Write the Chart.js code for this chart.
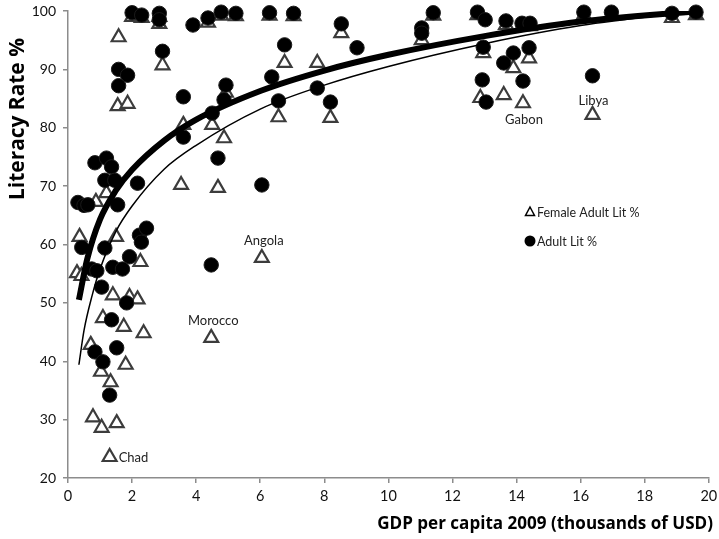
<!DOCTYPE html>
<html>
<head>
<meta charset="utf-8">
<script src="https://cdn.jsdelivr.net/npm/chart.js@4.4.1/dist/chart.umd.min.js"></script>
<style>
  html, body { margin: 0; padding: 0; background: #fff; }
  #wrap { width: 719px; height: 539px; position: relative; }
</style>
</head>
<body>
<div id="wrap"><canvas id="c" width="719" height="539"></canvas></div>
<script>
// ---- Data ----
// Adult literacy (%), GDP per capita 2009 (thousands USD)
const adultGdp = [0.31,0.5,0.62,0.43,0.74,0.9,0.84,1.2,1.36,1.15,1.46,1.05,1.15,1.55,2.17,2.23,2.45,2.29,1.92,1.4,1.7,1.83,1.36,0.84,1.09,1.52,1.3,1.58,1.86,1.58,2.0,2.3,2.85,2.85,2.95,3.9,3.6,3.6,4.37,4.78,5.24,6.29,7.04,8.53,9.02,6.76,6.36,4.93,4.87,4.5,6.57,7.78,8.19,4.68,6.05,4.47,11.4,11.04,11.04,12.78,13.02,13.67,14.17,14.42,12.96,14.39,13.9,13.6,12.93,14.2,13.05,16.1,16.96,18.85,19.6,16.37];
const adultLit = [67.2,66.7,66.8,59.5,55.8,55.5,74.0,74.8,73.3,71.0,71.0,52.7,59.4,66.8,70.5,61.6,62.8,60.4,57.9,56.1,55.8,50.0,47.1,41.6,39.9,42.3,34.2,90.0,89.0,87.2,99.7,99.3,99.6,98.5,93.1,97.6,85.3,78.4,98.8,99.8,99.6,99.7,99.6,97.8,93.7,94.2,88.7,87.3,84.8,82.5,84.6,86.8,84.4,74.8,70.2,56.5,99.7,97.1,96.2,99.8,98.5,98.3,97.9,97.9,93.8,93.7,92.8,91.1,88.2,88.0,84.4,99.8,99.8,99.6,99.8,88.9];

// Female adult literacy (%)
const femaleGdp = [0.87,1.2,0.36,1.5,0.28,0.42,2.26,1.4,1.92,2.17,1.09,1.74,2.36,0.71,1.8,1.03,1.33,0.78,1.05,1.52,1.3,1.58,2.95,1.55,1.86,3.6,3.53,4.68,6.05,4.47,4.87,4.5,6.57,8.19,6.76,7.78,8.53,2.0,2.3,2.85,2.85,4.37,11.04,12.96,14.39,13.9,12.87,13.6,14.2,16.37,18.85,13.67,4.93,4.78,5.24,6.29,7.04,11.4,12.78,16.1,16.96,19.6,14.17,14.42];
const femaleLit = [67.3,68.8,61.3,61.3,55.1,54.6,57.0,51.3,51.0,50.6,47.4,45.9,44.8,42.8,39.4,38.2,36.4,30.4,28.6,29.4,23.6,95.5,90.7,83.7,84.1,80.5,70.2,69.7,57.7,44.0,78.2,80.5,81.8,81.7,91.1,91.1,96.2,99.0,98.8,99.0,97.8,98.0,95.0,92.8,91.9,90.2,85.1,85.6,84.2,82.2,98.8,97.6,86.0,99.2,99.1,99.2,99.1,99.2,99.3,99.3,99.3,99.3,97.4,97.4];

// Trend lines
const adultTrendGdp = [0.34,0.6,1,1.5,2,3,4,6,8,10,13,16,19.7];
const adultTrendLit = [50.5,57.5,64.3,69.3,72.8,77.8,81.4,86.3,89.8,92.5,95.7,98.2,100];
const femaleTrendGdp = [0.34,0.5,0.75,1,1.5,2,3,4,6,8,10,13,16,19.7];
const femaleTrendLit = [39.4,45.3,51.2,55.8,62.3,66.6,72.9,77.0,83.2,87.3,90.5,94.4,97.5,100];

// Tick labels / axis ranges
const xTicks = [0,2,4,6,8,10,12,14,16,18,20];
const yTicks = [20,30,40,50,60,70,80,90,100];

// Labelled countries (female series points)
const labelNames = ['Chad','Morocco','Angola','Gabon','Libya'];
const labelGdp = [1.3,4.47,6.05,14.2,16.37];
const labelLit = [23.6,44.0,57.7,84.2,82.2];

// Legend entries and axis titles
const legendNames = ['Female Adult Lit %','Adult Lit %'];
const xTitle = 'GDP per capita 2009 (thousands of USD)';
const yTitle = 'Literacy Rate %';

// ---- Build ----
const toPts = (xs, ys) => xs.map((x, i) => ({x, y: ys[i]}));
const FONT = 'Lato, "Open Sans", sans-serif';
const TFONT = '"Open Sans", Lato, sans-serif';

function fitFont(ctx, text, weight, family, targetWidth) {
  ctx.font = weight + ' 20px ' + family;
  const w = ctx.measureText(text).width;
  const size = 20 * targetWidth / w;
  ctx.font = weight + ' ' + size.toFixed(2) + 'px ' + family;
}

const overlay = {
  id: 'overlay',
  afterDraw(chart) {
    const ctx = chart.ctx;
    const xs = chart.scales.x, ys = chart.scales.y;
    ctx.save();
    // country labels
    ctx.fillStyle = '#222';
    ctx.font = '13px ' + FONT;
    labelNames.forEach((name, i) => {
      const px = xs.getPixelForValue(labelGdp[i]);
      const py = ys.getPixelForValue(labelLit[i]);
      ctx.textBaseline = 'middle';
      if (name === 'Chad') {
        ctx.textAlign = 'left';
        ctx.fillText(name, px + 9, py + 1);
      } else if (name === 'Gabon') {
        ctx.textAlign = 'center';
        ctx.fillText(name, px + 1, py + 17);
      } else if (name === 'Libya') {
        ctx.textAlign = 'center';
        ctx.fillText(name, px + 1, py - 14);
      } else {
        ctx.textAlign = 'center';
        ctx.fillText(name, px + 2, py - 17);
      }
    });
    // legend
    const lx = 530, ly1 = 212, ly2 = 241;
    ctx.strokeStyle = '#000'; ctx.lineWidth = 1.5;
    ctx.beginPath();
    ctx.moveTo(lx, ly1 - 5); ctx.lineTo(lx + 4.5, ly1 + 3.5); ctx.lineTo(lx - 4.5, ly1 + 3.5); ctx.closePath();
    ctx.stroke();
    ctx.fillStyle = '#000';
    ctx.beginPath(); ctx.arc(lx, ly2, 5.5, 0, Math.PI * 2); ctx.fill();
    ctx.fillStyle = '#222';
    ctx.font = '12.5px ' + FONT;
    ctx.textAlign = 'left'; ctx.textBaseline = 'middle';
    ctx.fillText(legendNames[0], lx + 7, ly1 + 1);
    ctx.fillText(legendNames[1], lx + 7, ly2 + 1);
    // axis titles
    ctx.fillStyle = '#000';
    fitFont(ctx, xTitle, 'bold', TFONT, 336);
    ctx.textAlign = 'right'; ctx.textBaseline = 'middle';
    ctx.fillText(xTitle, 713, 524);
    fitFont(ctx, yTitle, 'bold', TFONT, 162);
    ctx.translate(18, 119);
    ctx.rotate(-Math.PI / 2);
    ctx.textAlign = 'center';
    ctx.fillText(yTitle, 0, 0);
    ctx.restore();
  }
};

new Chart(document.getElementById('c'), {
  type: 'scatter',
  data: {
    datasets: [
      {
        label: 'Adult trend',
        data: toPts(adultTrendGdp, adultTrendLit),
        showLine: true, borderColor: '#000', borderWidth: 6,
        pointRadius: 0, cubicInterpolationMode: 'monotone', order: 0
      },
      {
        label: 'Female trend',
        data: toPts(femaleTrendGdp, femaleTrendLit),
        showLine: true, borderColor: '#000', borderWidth: 1.5,
        pointRadius: 0, cubicInterpolationMode: 'monotone', order: 0
      },
      {
        label: legendNames[1],
        data: toPts(adultGdp, adultLit),
        pointStyle: 'circle', pointRadius: 7.2, clip: false,
        backgroundColor: '#000', borderColor: '#1a1a1a', borderWidth: 1, order: 1
      },
      {
        label: legendNames[0],
        data: toPts(femaleGdp, femaleLit),
        pointStyle: 'triangle', pointRadius: 8, clip: false,
        backgroundColor: '#fff', borderColor: '#3c3c3c', borderWidth: 2.2, order: 2
      }
    ]
  },
  options: {
    responsive: false,
    animation: false,
    events: [],
    layout: { padding: { left: 0, right: 6, top: 11, bottom: 0 } },
    plugins: { legend: { display: false }, tooltip: { enabled: false } },
    scales: {
      x: {
        type: 'linear', min: xTicks[0], max: xTicks[xTicks.length - 1],
        afterFit: s => { s.height = 61; s.paddingLeft = 0; s.paddingRight = 0; },
        afterBuildTicks: s => { s.ticks = xTicks.map(v => ({value: v})); },
        border: { display: true, color: '#8c8c8c', width: 1.5 },
        grid: { display: true, drawOnChartArea: false, drawTicks: true, tickLength: 5, color: '#8c8c8c', lineWidth: 1.5 },
        ticks: { color: '#111', font: { family: FONT, size: 14.5 }, padding: 5, maxRotation: 0 }
      },
      y: {
        type: 'linear', min: yTicks[0], max: yTicks[yTicks.length - 1],
        afterFit: s => { s.width = 68; s.paddingTop = 0; s.paddingBottom = 0; },
        afterBuildTicks: s => { s.ticks = yTicks.map(v => ({value: v})); },
        border: { display: true, color: '#8c8c8c', width: 1.5 },
        grid: { display: true, drawOnChartArea: false, drawTicks: true, tickLength: 5, color: '#8c8c8c', lineWidth: 1.5 },
        ticks: { color: '#111', font: { family: FONT, size: 14 }, padding: 7 }
      }
    }
  },
  plugins: [overlay]
});
</script>
</body>
</html>
